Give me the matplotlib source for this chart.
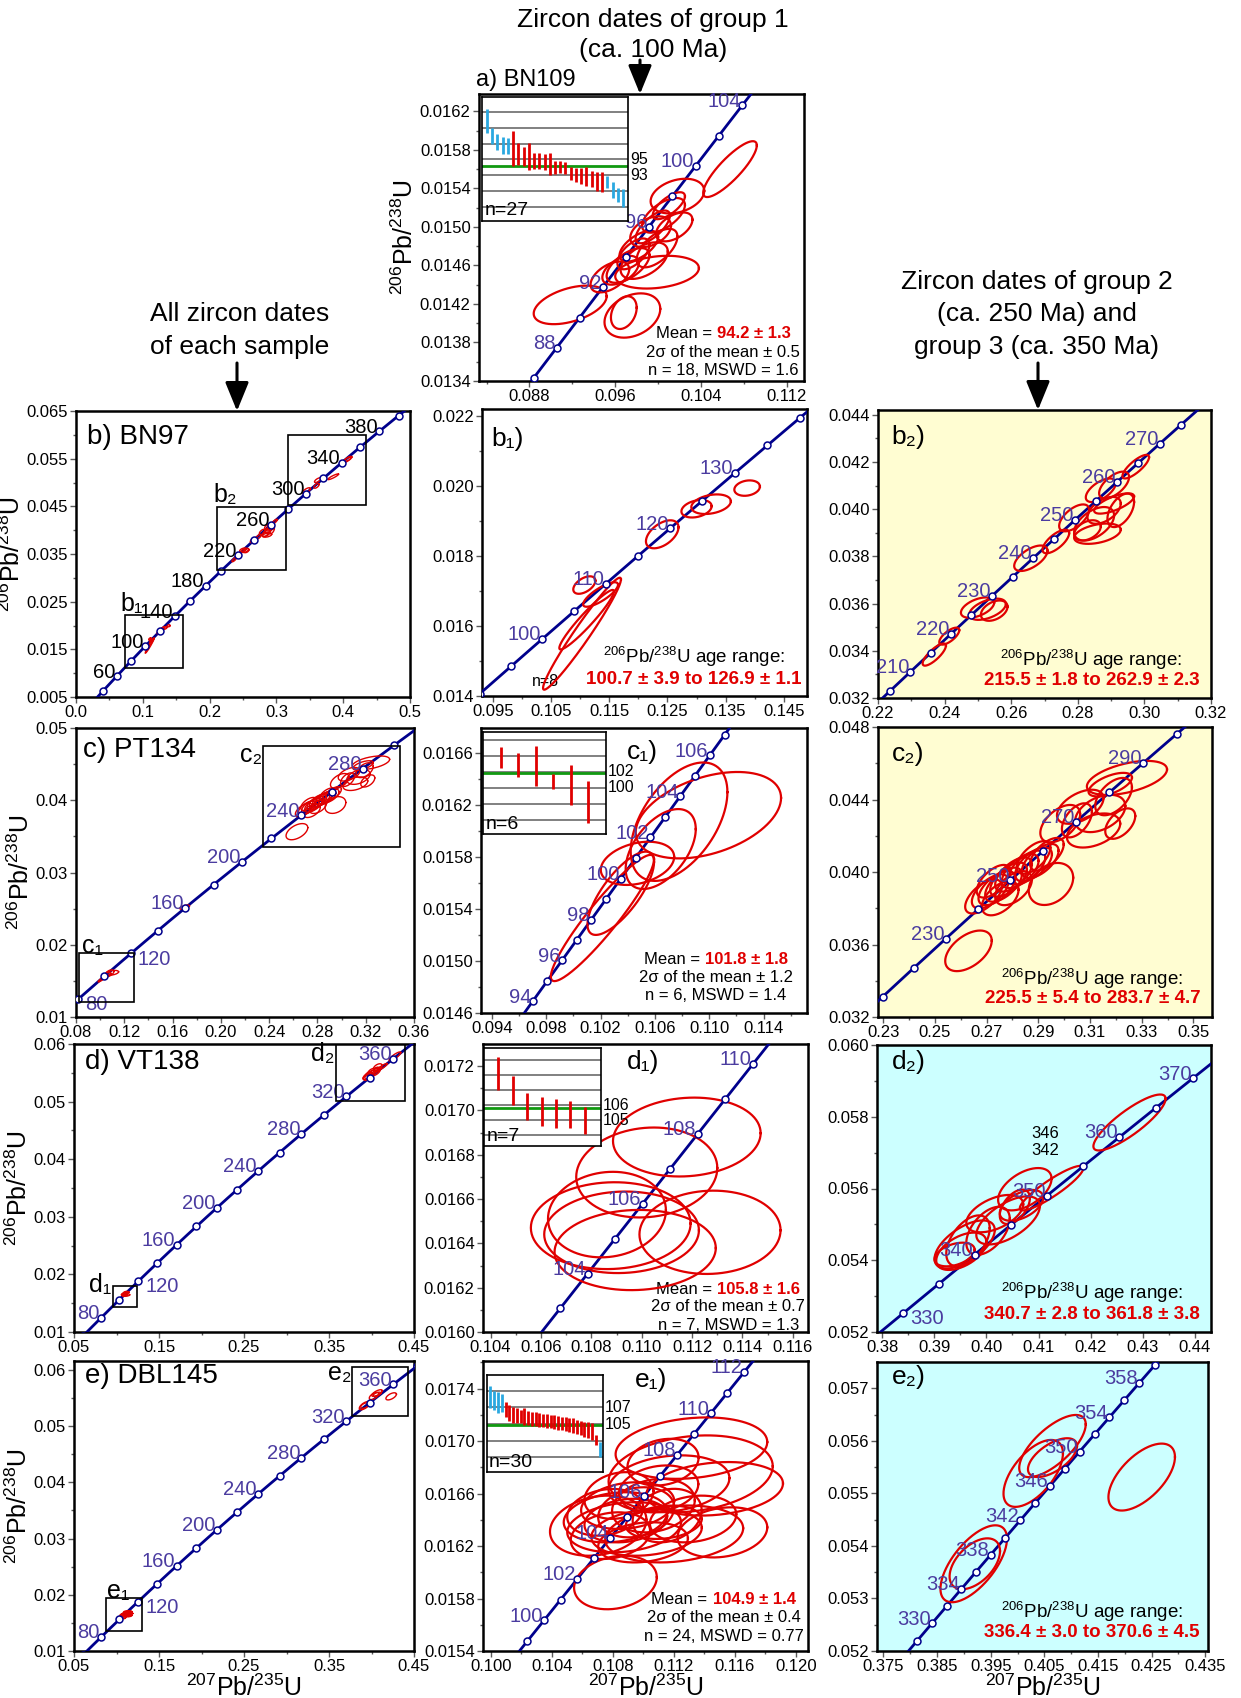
import numpy as np
import matplotlib
matplotlib.use('Agg')
import matplotlib.pyplot as plt
from matplotlib.patches import Rectangle, FancyArrowPatch
from matplotlib.transforms import ScaledTranslation, blended_transform_factory

plt.rcParams['font.family'] = ['Liberation Sans', 'DejaVu Sans']
plt.rcParams['mathtext.fontset'] = 'custom'
plt.rcParams['mathtext.rm'] = 'Liberation Sans'
plt.rcParams['mathtext.it'] = 'Liberation Sans:italic'
plt.rcParams['mathtext.bf'] = 'Liberation Sans:bold'

# ---------------- data ----------------
# error ellipses: (207Pb/235U, 206Pb/238U, 1 s.e. x, 1 s.e. y, rho)
ell_a = [
    (0.1067, 0.01560, 0.0025, 0.00029, 0.85), (0.0918, 0.01419, 0.0034, 0.00020, 0.45),
    (0.0999, 0.01453, 0.0039, 0.00017, 0.25), (0.0976, 0.01408, 0.0026, 0.00023, 0.30),
    (0.0968, 0.01411, 0.0012, 0.00017, 0.30), (0.1018, 0.01532, 0.0025, 0.00018, 0.30),
    (0.0993, 0.01495, 0.0019, 0.00016, 0.40), (0.0972, 0.01460, 0.0020, 0.00018, 0.60),
    (0.0982, 0.01480, 0.0018, 0.00016, 0.60), (0.0995, 0.01500, 0.0016, 0.00017, 0.70),
    (0.1005, 0.01512, 0.0020, 0.00018, 0.60), (0.0965, 0.01455, 0.0017, 0.00015, 0.50),
    (0.0987, 0.01465, 0.0022, 0.00019, 0.50), (0.1010, 0.01522, 0.0015, 0.00014, 0.70),
    (0.0999, 0.01478, 0.0019, 0.00020, 0.60), (0.0977, 0.01472, 0.0015, 0.00016, 0.60),
    (0.0955, 0.01448, 0.0018, 0.00016, 0.50), (0.1015, 0.01500, 0.0017, 0.00015, 0.50),
]
ell_b1 = [
    (0.1325, 0.01948, 0.0034, 0.00028, 0.3), (0.1300, 0.01935, 0.0026, 0.00025, 0.3),
    (0.1387, 0.01994, 0.0022, 0.00022, 0.2), (0.1241, 0.01862, 0.0028, 0.00040, 0.5),
    (0.1107, 0.01717, 0.0019, 0.00025, 0.5), (0.1103, 0.01578, 0.0067, 0.00160, 0.97),
    (0.1111, 0.01618, 0.0047, 0.00085, 0.95), (0.1135, 0.01690, 0.0030, 0.00035, 0.8),
]
ell_b2 = [
    (0.2369, 0.03384, 0.0035, 0.00047, 0.8), (0.2414, 0.03462, 0.0030, 0.00036, 0.7),
    (0.2499, 0.03583, 0.0050, 0.00043, 0.5), (0.2529, 0.03576, 0.0055, 0.00045, 0.5),
    (0.2549, 0.03570, 0.0040, 0.00043, 0.4), (0.2659, 0.03792, 0.0050, 0.00054, 0.6),
    (0.2734, 0.03863, 0.0040, 0.00050, 0.7), (0.2789, 0.03963, 0.0045, 0.00057, 0.6),
    (0.2849, 0.03938, 0.0060, 0.00071, 0.5), (0.2879, 0.03995, 0.0050, 0.00057, 0.5),
    (0.2859, 0.03896, 0.0070, 0.00043, 0.4), (0.2909, 0.04024, 0.0060, 0.00043, 0.7),
    (0.2929, 0.03995, 0.0040, 0.00071, 0.5), (0.2829, 0.03910, 0.0040, 0.00043, 0.4),
    (0.2869, 0.04080, 0.0045, 0.00050, 0.6), (0.2909, 0.04102, 0.0045, 0.00057, 0.6),
    (0.2974, 0.04180, 0.0040, 0.00050, 0.8),
]
ell_b_other = [
    (0.170, 0.0252, 0.004, 0.0004, 0.7), (0.345, 0.0483, 0.006, 0.0006, 0.7),
    (0.362, 0.0505, 0.005, 0.0005, 0.7), (0.360, 0.0493, 0.004, 0.0005, 0.6),
    (0.385, 0.0512, 0.008, 0.0006, 0.9), (0.405, 0.0547, 0.006, 0.0006, 0.8),
    (0.408, 0.0550, 0.005, 0.0005, 0.7),
]
ell_c1 = [
    (0.10214, 0.01533, 0.0038, 0.000485, 0.93), (0.10349, 0.01552, 0.00245, 0.00032, 0.75),
    (0.10472, 0.01575, 0.0027, 0.000166, 0.3), (0.10643, 0.01586, 0.00258, 0.000307, 0.5),
    (0.10994, 0.01612, 0.00535, 0.000332, 0.4), (0.10778, 0.01607, 0.00356, 0.000455, 0.5),
]
ell_c2 = [
    (0.2630, 0.03565, 0.0090, 0.00112, 0.5), (0.2949, 0.03934, 0.0086, 0.00116, 0.3),
    (0.3243, 0.04519, 0.0155, 0.00094, 0.5),
    (0.26882, 0.03865, 0.0071, 0.00094, 0.6), (0.27140, 0.03893, 0.0071, 0.00094, 0.6),
    (0.27398, 0.03911, 0.0071, 0.00094, 0.6), (0.27656, 0.03930, 0.0071, 0.00094, 0.6),
    (0.27850, 0.03958, 0.0071, 0.00094, 0.6), (0.28043, 0.03986, 0.0071, 0.00094, 0.6),
    (0.28301, 0.04005, 0.0071, 0.00094, 0.6), (0.28559, 0.04024, 0.0071, 0.00094, 0.6),
    (0.28817, 0.04042, 0.0071, 0.00094, 0.6), (0.29075, 0.04061, 0.0071, 0.00094, 0.6),
    (0.27527, 0.03855, 0.0071, 0.00094, 0.5), (0.27269, 0.03949, 0.0065, 0.00090, 0.6),
    (0.28043, 0.03911, 0.0071, 0.00094, 0.5), (0.28817, 0.04080, 0.0065, 0.00090, 0.6),
    (0.29333, 0.04098, 0.0065, 0.00090, 0.6),
    (0.29849, 0.04267, 0.0077, 0.00103, 0.5), (0.30623, 0.04360, 0.0090, 0.00094, 0.5),
    (0.31397, 0.04323, 0.0097, 0.00103, 0.4), (0.31913, 0.04416, 0.0071, 0.00103, 0.5),
    (0.31139, 0.04229, 0.0103, 0.00094, 0.4), (0.32171, 0.04267, 0.0058, 0.00084, 0.5),
    (0.31784, 0.04482, 0.0084, 0.00065, 0.6), (0.30494, 0.04285, 0.0058, 0.00094, 0.5),
]
ell_c_other = [(0.170, 0.0252, 0.004, 0.0003, 0.6)]
ell_d1 = [
    (0.11179, 0.01688, 0.00293, 0.000178, 0.1), (0.11020, 0.01672, 0.00280, 0.000203, 0.1),
    (0.10862, 0.01653, 0.00234, 0.000193, 0.1), (0.10877, 0.01648, 0.00317, 0.000196, 0.05),
    (0.10920, 0.01645, 0.00307, 0.000184, 0.05), (0.10974, 0.01637, 0.00320, 0.000181, 0.05),
    (0.11271, 0.01645, 0.00280, 0.000188, 0.05),
]
ell_d2 = [
    (0.42746, 0.05784, 0.00693, 0.00078, 0.85), (0.41251, 0.05601, 0.00610, 0.00062, 0.9),
    (0.40737, 0.05598, 0.00513, 0.00059, 0.5), (0.39518, 0.05425, 0.00481, 0.00052, 0.5),
    (0.39582, 0.05444, 0.00578, 0.00067, 0.6), (0.39646, 0.05454, 0.00417, 0.00071, 0.5),
    (0.40031, 0.05482, 0.00417, 0.00067, 0.5), (0.40416, 0.05511, 0.00610, 0.00067, 0.6),
    (0.40160, 0.05530, 0.00546, 0.00052, 0.5), (0.40545, 0.05549, 0.00289, 0.00048, 0.5),
    (0.40673, 0.05553, 0.00417, 0.00043, 0.5), (0.39389, 0.05416, 0.00385, 0.00033, 0.4),
]
ell_e1 = [
    (0.11316, 0.016946, 0.00497, 0.000234, 0.2), (0.11311, 0.016750, 0.00538, 0.000293, 0.2),
    (0.11130, 0.016839, 0.00233, 0.000178, 0.2), (0.11469, 0.016636, 0.00447, 0.000204, 0.2),
    (0.11169, 0.016674, 0.00396, 0.000217, 0.2), (0.10818, 0.015922, 0.00271, 0.000204, 0.2),
    (0.10705, 0.016355, 0.00316, 0.000229, 0.2), (0.10818, 0.016419, 0.00339, 0.000191, 0.2),
    (0.10875, 0.016343, 0.00373, 0.000191, 0.2), (0.11203, 0.016292, 0.00452, 0.000217, 0.2),
    (0.11157, 0.016432, 0.00226, 0.000204, 0.2), (0.10898, 0.016508, 0.00305, 0.000178, 0.2),
    (0.11022, 0.016304, 0.00362, 0.000178, 0.2), (0.10785, 0.016279, 0.00260, 0.000178, 0.2),
    (0.11327, 0.016406, 0.00283, 0.000178, 0.2), (0.11101, 0.016636, 0.00260, 0.000178, 0.2),
    (0.10886, 0.016394, 0.00271, 0.000166, 0.2), (0.10999, 0.016228, 0.00294, 0.000153, 0.2),
    (0.10954, 0.016457, 0.00249, 0.000191, 0.2), (0.10751, 0.016457, 0.00249, 0.000178, 0.2),
    (0.11067, 0.016508, 0.00271, 0.000204, 0.2), (0.11519, 0.016304, 0.00294, 0.000191, 0.2),
    (0.10841, 0.016585, 0.00226, 0.000178, 0.2), (0.11135, 0.016381, 0.00249, 0.000127, 0.2),
]
ell_e2 = [
    (0.42314, 0.05531, 0.0062, 0.000637, 0.6), (0.40292, 0.05538, 0.00554, 0.000637, 0.6),
    (0.40651, 0.05590, 0.0062, 0.000592, 0.7), (0.40651, 0.05568, 0.00457, 0.000369, 0.6),
    (0.39183, 0.05366, 0.0062, 0.000732, 0.65), (0.39203, 0.05366, 0.0047, 0.000484, 0.5),
]

# weighted-mean insets: ages (Ma), 2s errors, used in mean (1) or rejected (0)
a_bar_age = [99.9, 98.0, 97.2, 96.8, 96.7, 96.4, 95.65, 95.4, 95.4, 94.8, 94.8, 94.7, 94.4, 94.0,
             94.0, 93.9, 93.2, 93.05, 92.9, 92.8, 92.5, 92.2, 92.15, 92.1, 91.1, 90.45, 90.1]
a_bar_err = [1.5, 1.0, 1.05, 1.1, 1.0, 2.2, 1.4, 1.2, 1.7, 1.0, 1.0, 1.0, 1.4, 0.8,
             0.75, 0.8, 0.85, 0.9, 1.0, 1.2, 1.0, 1.2, 1.3, 0.8, 1.05, 0.85, 1.1]
a_bar_used = [0, 0, 0, 0, 0, 1, 1, 1, 1, 1, 1, 1, 1, 1, 1, 1, 1, 1, 1, 1, 1, 1, 1, 0, 0, 0, 0]
c1_bar_age = [103.8, 102.85, 102.7, 100.8, 100.4, 98.25]
c1_bar_err = [1.3, 1.55, 2.5, 0.9, 2.5, 2.6]
c1_bar_used = [1, 1, 1, 1, 1, 1]
d1_bar_age = [108.1, 106.95, 105.9, 105.6, 105.45, 105.4, 105.0]
d1_bar_err = [1.1, 0.95, 0.9, 0.95, 0.95, 0.9, 0.9]
d1_bar_used = [1, 1, 1, 1, 1, 1, 1]
e1_bar_age = [108.22, 107.82, 107.58, 107.52, 106.78, 106.32, 106.08, 105.98, 105.88, 105.88,
              105.72, 105.66, 105.6, 105.48, 105.46, 105.36, 105.28, 105.24, 105.14, 105.08,
              105.0, 104.94, 104.78, 104.62, 104.54, 104.38, 104.28, 104.08, 103.08, 101.94]
e1_bar_err = [1.34, 1.14, 1.3, 1.04, 0.9, 0.96, 1.0, 0.9, 0.8, 1.0, 0.84, 0.84, 0.8, 0.8, 0.78,
              0.8, 0.8, 0.84, 0.86, 0.8, 0.84, 0.84, 0.9, 0.86, 0.84, 0.9, 1.0, 1.0, 0.6, 0.86]
e1_bar_used = [0, 0, 0, 0] + [1] * 25 + [0]

# concordia age marks (Ma) and labelled ages
a_dots, a_labels = list(range(86, 108, 2)), [88, 92, 96, 100, 104]
b_dots, b_labels = list(range(40, 420, 20)), [60, 100, 140, 180, 220, 260, 300, 340, 380]
b1_dots, b1_labels = list(range(90, 150, 5)), [100, 110, 120, 130]
b2_dots, b2_labels = list(range(200, 290, 5)), [210, 220, 230, 240, 250, 260, 270]
c_dots, c_labels = list(range(80, 360, 20)), [80, 120, 160, 200, 240, 280]
c1_dots, c1_labels = list(range(93, 108)), [94, 96, 98, 100, 102, 104, 106]
c2_dots, c2_labels = list(range(210, 320, 10)), [230, 250, 270, 290]
d_dots, d_labels = list(range(60, 400, 20)), [80, 120, 160, 200, 240, 280, 320, 360]
d1_dots, d1_labels = list(range(100, 112)), [104, 106, 108, 110]
d2_dots, d2_labels = list(range(320, 380, 5)), [330, 340, 350, 360, 370]
e1_dots, e1_labels = list(range(98, 115)), [100, 102, 104, 106, 108, 110, 112]
e2_dots, e2_labels = list(range(326, 364, 2)), [330, 334, 338, 342, 346, 350, 354, 358]

# zoom boxes drawn on the overview diagrams: (x0, y0, x1, y1)
b_boxes = [(0.0739, 0.01115, 0.1597, 0.02213), (0.2106, 0.03157, 0.3139, 0.04486),
           (0.3179, 0.0452, 0.4336, 0.0599)]
c_boxes = [(0.0828, 0.01201, 0.1283, 0.01889), (0.235, 0.03353, 0.348, 0.04757)]
d_boxes = [(0.0954, 0.01429, 0.1237, 0.01794), (0.3587, 0.05018, 0.4390, 0.06047)]
e_boxes = [(0.0872, 0.01357, 0.1295, 0.01940), (0.3775, 0.05179, 0.4429, 0.06048)]

# ---------------- drawing ----------------
W, H = 1241, 1698
NAVY = '#00008c'
AGE_COL = '#4b3ca0'
RED = '#e00000'
CYAN = '#2aa8e0'
GREEN = '#119911'
YELLOW_BG = '#fffdd2'
CYAN_BG = '#ccffff'
L238, L235 = 1.55125e-4, 9.8485e-4   # per Ma
TH = np.linspace(0, 2 * np.pi, 181)

fig = plt.figure(figsize=(W / 100, H / 100), dpi=100)
renderer = fig.canvas.get_renderer()


def add_px(l, t, r, b):
    return fig.add_axes([l / W, 1 - b / H, (r - l) / W, (b - t) / H])


def conc(t):
    t = np.asarray(t, float)
    return np.exp(L235 * t) - 1, np.exp(L238 * t) - 1


def set_ticks(ax, xlim, ylim, xt, yt, xdec, ydec):
    ax.set_xlim(xlim)
    ax.set_ylim(ylim)
    xs = np.arange(xt[0], xlim[1] + xt[1] * 0.01, xt[1])
    ys = np.arange(yt[0], ylim[1] + yt[1] * 0.01, yt[1])
    ax.set_xticks(xs)
    ax.set_xticklabels([f'{v:.{xdec}f}' for v in xs])
    ax.set_yticks(ys)
    ax.set_yticklabels([f'{v:.{ydec}f}' for v in ys])
    xm = np.arange(xt[0] - xt[1] / 2, xlim[1], xt[1])
    ym = np.arange(yt[0] - yt[1] / 2, ylim[1], yt[1])
    ax.set_xticks(xm[(xm > xlim[0]) & (xm < xlim[1])], minor=True)
    ax.set_yticks(ym[(ym > ylim[0]) & (ym < ylim[1])], minor=True)
    ax.tick_params(which='both', direction='out', color='0.35', labelsize=12,
                   top=False, right=False, pad=2)
    ax.tick_params(which='major', length=4, width=1)
    ax.tick_params(which='minor', length=2.5, width=1)
    for s in ax.spines.values():
        s.set_linewidth(1.8)


def concordia(ax, dots, labels, col=AGE_COL, right=(), fs=14.5):
    x, y = conc(np.linspace(1, 600, 3000))
    ax.plot(x, y, color=NAVY, lw=2, zorder=3)
    dx, dy = conc(dots)
    ax.plot(dx, dy, 'o', ms=5, mfc='white', mec=NAVY, mew=1.1, zorder=5)
    for a in labels:
        px, py = conc(a)
        if a in right:
            off, ha = (5, -4), 'left'
        else:
            off, ha = (-1, 3), 'right'
        ax.annotate(str(a), (px, py), xytext=off, textcoords='offset points',
                    ha=ha, va='center', color=col, fontsize=fs, zorder=6)


def ellipses(ax, ells, lw=1.6):
    for x, y, sx, sy, r in ells:
        ex = x + sx * np.cos(TH)
        ey = y + sy * (r * np.cos(TH) + np.sqrt(1 - r * r) * np.sin(TH))
        ax.plot(ex, ey, color=RED, lw=lw, zorder=4)


def boxes(ax, bx):
    for x0, y0, x1, y1 in bx:
        ax.add_patch(Rectangle((x0, y0), x1 - x0, y1 - y0, fill=False, ec='k', lw=1.2, zorder=6))


def inset(rect, ages, errs, used, ylim, grid, mean, labs, ntext, xmax):
    ax = add_px(*rect)
    ax.set_xlim(0, xmax)
    ax.set_ylim(ylim)
    for g in grid:
        ax.axhline(g, color='0.5', lw=1.4, zorder=1)
    ax.axhline(mean, color=GREEN, lw=2, zorder=2)
    for i, (a, e, u) in enumerate(zip(ages, errs, used)):
        ax.plot([i + 1, i + 1], [a - e, a + e], color=RED if u else CYAN, lw=2,
                solid_capstyle='butt', zorder=3)
    ax.set_xticks([])
    ax.set_yticks([])
    for s in ax.spines.values():
        s.set_linewidth(1.2)
    tr = blended_transform_factory(ax.transAxes, ax.transData)
    for l in labs:
        ax.text(1.015, l, str(l), transform=tr, ha='left', va='center', fontsize=11.5)
    ax.text(0.02, 0.01, ntext, transform=ax.transAxes, ha='left', va='bottom', fontsize=14)


def mean_block(ax, xf, yfs, value, sigma, nline, fs=12):
    t1 = ax.text(xf, yfs[0], 'Mean =', transform=ax.transAxes, ha='left', va='center', fontsize=fs)
    t2 = ax.text(xf, yfs[0], value, transform=ax.transAxes, ha='left', va='center',
                 fontsize=fs, color=RED, fontweight='bold')
    w1 = t1.get_window_extent(renderer).width
    w2 = t2.get_window_extent(renderer).width
    gap = fs * 0.3 * 100 / 72
    tot = w1 + gap + w2
    t1.set_transform(ax.transAxes + ScaledTranslation(-tot / 2 / 100, 0, fig.dpi_scale_trans))
    t2.set_transform(ax.transAxes + ScaledTranslation((-tot / 2 + w1 + gap) / 100, 0,
                                                      fig.dpi_scale_trans))
    ax.text(xf, yfs[1], sigma, transform=ax.transAxes, ha='center', va='center', fontsize=fs)
    ax.text(xf, yfs[2], nline, transform=ax.transAxes, ha='center', va='center', fontsize=fs)


def age_range(ax, xf, yfs, rng, fs=13.5):
    ax.text(xf, yfs[0], r'$^{206}$Pb/$^{238}$U age range:', transform=ax.transAxes,
            ha='center', va='center', fontsize=fs, zorder=7)
    ax.text(xf, yfs[1], rng, transform=ax.transAxes, ha='center', va='center',
            fontsize=fs, color=RED, fontweight='bold', zorder=7)


def tag(ax, xf, yf, s, fs=20):
    ax.text(xf, yf, s, transform=ax.transAxes, ha='left', va='center', fontsize=fs, zorder=7)


YLAB = r'$^{206}$Pb/$^{238}$U'
XLAB = r'$^{207}$Pb/$^{235}$U'
LABFS = 18

# ---- a) BN109
ax = add_px(479, 94, 804, 381)
set_ticks(ax, (0.0833, 0.1136), (0.0134, 0.01638), (0.088, 0.008), (0.0134, 0.0004), 3, 4)
concordia(ax, a_dots, a_labels)
ellipses(ax, ell_a)
ax.set_ylabel(YLAB, fontsize=LABFS, labelpad=1)
mean_block(ax, 0.752, [0.167, 0.101, 0.038], '94.2 ± 1.3', '2σ of the mean ± 0.5', 'n = 18, MSWD = 1.6')
fig.text(476 / W, 1 - 80 / H, 'a) BN109', ha='left', va='center', fontsize=17)
inset((481.7, 97.3, 628.3, 220.7), a_bar_age, a_bar_err, a_bar_used, (87.2, 102.9),
      [89, 91, 93, 95, 97, 99, 101], 94.2, [95, 93], 'n=27', 28)

# ---- b) BN97
ax = add_px(76, 411, 410, 697)
set_ticks(ax, (0.0, 0.5), (0.005, 0.065), (0.0, 0.1), (0.005, 0.01), 1, 3)
concordia(ax, b_dots, b_labels, col='black')
ellipses(ax, ell_b1 + ell_b2 + ell_b_other, lw=1.0)
boxes(ax, b_boxes)
ax.text(0.0669, 0.02458, 'b\u2081', ha='left', va='center', fontsize=18)
ax.text(0.2056, 0.04731, 'b\u2082', ha='left', va='center', fontsize=18)
ax.set_ylabel(YLAB, fontsize=LABFS, labelpad=1)
tag(ax, 0.033, 0.91, 'b) BN97')

ax = add_px(482, 409, 807, 696)
set_ticks(ax, (0.0931, 0.149), (0.014, 0.0222), (0.095, 0.01), (0.014, 0.002), 3, 3)
concordia(ax, b1_dots, b1_labels)
ellipses(ax, ell_b1)
age_range(ax, 0.651, [0.136, 0.056], '100.7 ± 3.9 to 126.9 ± 1.1')
ax.text(0.194, 0.049, 'n=8', transform=ax.transAxes, ha='center', va='center', fontsize=11.5)
tag(ax, 0.028, 0.897, 'b\u2081)', fs=19)

ax = add_px(878, 410, 1211, 698)
ax.set_facecolor(YELLOW_BG)
set_ticks(ax, (0.22, 0.32), (0.032, 0.0442), (0.22, 0.02), (0.032, 0.002), 2, 3)
concordia(ax, b2_dots, b2_labels)
ellipses(ax, ell_b2)
age_range(ax, 0.641, [0.132, 0.062], '215.5 ± 1.8 to 262.9 ± 2.3')
tag(ax, 0.041, 0.907, 'b\u2082)', fs=19)

# ---- c) PT134
ax = add_px(76, 728, 414, 1017)
set_ticks(ax, (0.08, 0.36), (0.01, 0.05), (0.08, 0.04), (0.01, 0.01), 2, 2)
concordia(ax, c_dots, c_labels, right=(80, 120))
ellipses(ax, ell_c1 + ell_c2 + ell_c_other, lw=1.0)
boxes(ax, c_boxes)
ax.text(0.0847, 0.0198, 'c\u2081', ha='left', va='center', fontsize=18)
ax.text(0.2341, 0.0463, 'c\u2082', ha='right', va='center', fontsize=18)
ax.set_ylabel(YLAB, fontsize=LABFS, labelpad=1)
tag(ax, 0.022, 0.924, 'c) PT134')

ax = add_px(481, 728, 807, 1013)
set_ticks(ax, (0.0932, 0.1172), (0.0146, 0.01679), (0.094, 0.004), (0.0146, 0.0004), 3, 4)
concordia(ax, c1_dots, c1_labels)
ellipses(ax, ell_c1)
mean_block(ax, 0.72, [0.189, 0.125, 0.060], '101.8 ± 1.8', '2σ of the mean ± 1.2', 'n = 6, MSWD = 1.4')
tag(ax, 0.447, 0.915, 'c\u2081)', fs=19)
inset((483.3, 731.7, 605.7, 834.3), c1_bar_age, c1_bar_err, c1_bar_used, (94.2, 107.0),
      [96, 98, 100, 102, 104, 106], 101.8, [102, 100], 'n=6', 7)

ax = add_px(878, 727, 1212, 1017)
ax.set_facecolor(YELLOW_BG)
set_ticks(ax, (0.228, 0.3572), (0.032, 0.048), (0.23, 0.02), (0.032, 0.004), 2, 3)
concordia(ax, c2_dots, c2_labels)
ellipses(ax, ell_c2)
age_range(ax, 0.642, [0.132, 0.063], '225.5 ± 5.4 to 283.7 ± 4.7')
tag(ax, 0.042, 0.908, 'c\u2082)', fs=19)

# ---- d) VT138
ax = add_px(74, 1044, 414, 1332)
set_ticks(ax, (0.05, 0.45), (0.01, 0.06), (0.05, 0.1), (0.01, 0.01), 2, 2)
concordia(ax, d_dots, d_labels, right=(120,))
ellipses(ax, ell_d1 + ell_d2, lw=1.0)
boxes(ax, d_boxes)
ax.text(0.0943, 0.0182, 'd\u2081', ha='right', va='center', fontsize=18)
ax.text(0.3567, 0.0582, 'd\u2082', ha='right', va='center', fontsize=18)
ax.set_ylabel(YLAB, fontsize=LABFS, labelpad=1)
tag(ax, 0.032, 0.938, 'd) VT138')

ax = add_px(483, 1044, 808, 1332)
set_ticks(ax, (0.1037, 0.1166), (0.016, 0.0173), (0.104, 0.002), (0.016, 0.0002), 3, 4)
concordia(ax, d1_dots, d1_labels)
ellipses(ax, ell_d1)
mean_block(ax, 0.755, [0.149, 0.087, 0.024], '105.8 ± 1.6', '2σ of the mean ± 0.7', 'n = 7, MSWD = 1.3')
tag(ax, 0.442, 0.938, 'd\u2081)', fs=19)
inset((484, 1047.7, 600.7, 1146), d1_bar_age, d1_bar_err, d1_bar_used, (103.3, 109.8),
      [104, 105, 106, 107, 108, 109], 105.8, [106, 105], 'n=7', 8.1)

ax = add_px(877, 1045, 1211, 1332)
ax.set_facecolor(CYAN_BG)
set_ticks(ax, (0.379, 0.4431), (0.052, 0.060), (0.38, 0.01), (0.052, 0.002), 2, 3)
concordia(ax, d2_dots, d2_labels, right=(330,))
ellipses(ax, ell_d2)
age_range(ax, 0.643, [0.135, 0.061], '340.7 ± 2.8 to 361.8 ± 3.8')
ax.text(0.503, 0.690, '346', transform=ax.transAxes, ha='center', va='center', fontsize=12)
ax.text(0.503, 0.634, '342', transform=ax.transAxes, ha='center', va='center', fontsize=12)
tag(ax, 0.044, 0.942, 'd\u2082)', fs=19)

# ---- e) DBL145
ax = add_px(74, 1361, 414, 1651)
set_ticks(ax, (0.05, 0.45), (0.01, 0.0616), (0.05, 0.1), (0.01, 0.01), 2, 2)
concordia(ax, d_dots, d_labels, right=(120,))
ellipses(ax, ell_e1 + ell_e2, lw=1.0)
boxes(ax, e_boxes)
ax.text(0.0884, 0.0207, 'e\u2081', ha='left', va='center', fontsize=18)
ax.text(0.3763, 0.0594, 'e\u2082', ha='right', va='center', fontsize=18)
ax.set_ylabel(YLAB, fontsize=LABFS, labelpad=1)
ax.set_xlabel(XLAB, fontsize=LABFS, labelpad=0)
tag(ax, 0.032, 0.949, 'e) DBL145')

ax = add_px(483, 1361, 808, 1651)
set_ticks(ax, (0.0995, 0.1208), (0.0154, 0.01761), (0.100, 0.004), (0.0154, 0.0004), 3, 4)
concordia(ax, e1_dots, e1_labels)
ellipses(ax, ell_e1)
ax.set_xlabel(XLAB, fontsize=LABFS, labelpad=0)
mean_block(ax, 0.74, [0.178, 0.115, 0.049], '104.9 ± 1.4', '2σ of the mean ± 0.4', 'n = 24, MSWD = 0.77')
tag(ax, 0.468, 0.934, 'e\u2081)', fs=19)
inset((486.7, 1375, 603.3, 1472.3), e1_bar_age, e1_bar_err, e1_bar_used, (99.2, 110.9),
      [101, 103, 105, 107, 109], 104.9, [107, 105], 'n=30', 31)

ax = add_px(877, 1362, 1208, 1651)
ax.set_facecolor(CYAN_BG)
set_ticks(ax, (0.3738, 0.4355), (0.052, 0.0575), (0.375, 0.01), (0.052, 0.001), 3, 3)
concordia(ax, e2_dots, e2_labels)
ellipses(ax, ell_e2)
ax.set_xlabel(XLAB, fontsize=LABFS, labelpad=0)
age_range(ax, 0.648, [0.136, 0.065], '336.4 ± 3.0 to 370.6 ± 4.5')
tag(ax, 0.045, 0.949, 'e\u2082)', fs=19)


# ---- headings and arrows
def head(x, y, s):
    fig.text(x / W, 1 - y / H, s, ha='center', va='center', fontsize=19)


head(653, 20, 'Zircon dates of group 1')
head(653, 50, '(ca. 100 Ma)')
head(240, 314, 'All zircon dates')
head(240, 347, 'of each sample')
head(1037, 282, 'Zircon dates of group 2')
head(1037, 314, '(ca. 250 Ma) and')
head(1037, 347, 'group 3 (ca. 350 Ma)')

for x, y0, y1 in [(640, 60, 94), (237, 363, 411), (1038, 363, 410)]:
    fig.add_artist(FancyArrowPatch(
        (x / W, 1 - y0 / H), (x / W, 1 - y1 / H), transform=fig.transFigure,
        arrowstyle='-|>,head_width=0.45,head_length=1.1', mutation_scale=16,
        color='black', lw=2.2, shrinkA=0, shrinkB=0))

fig.savefig('out.png', dpi=100)
